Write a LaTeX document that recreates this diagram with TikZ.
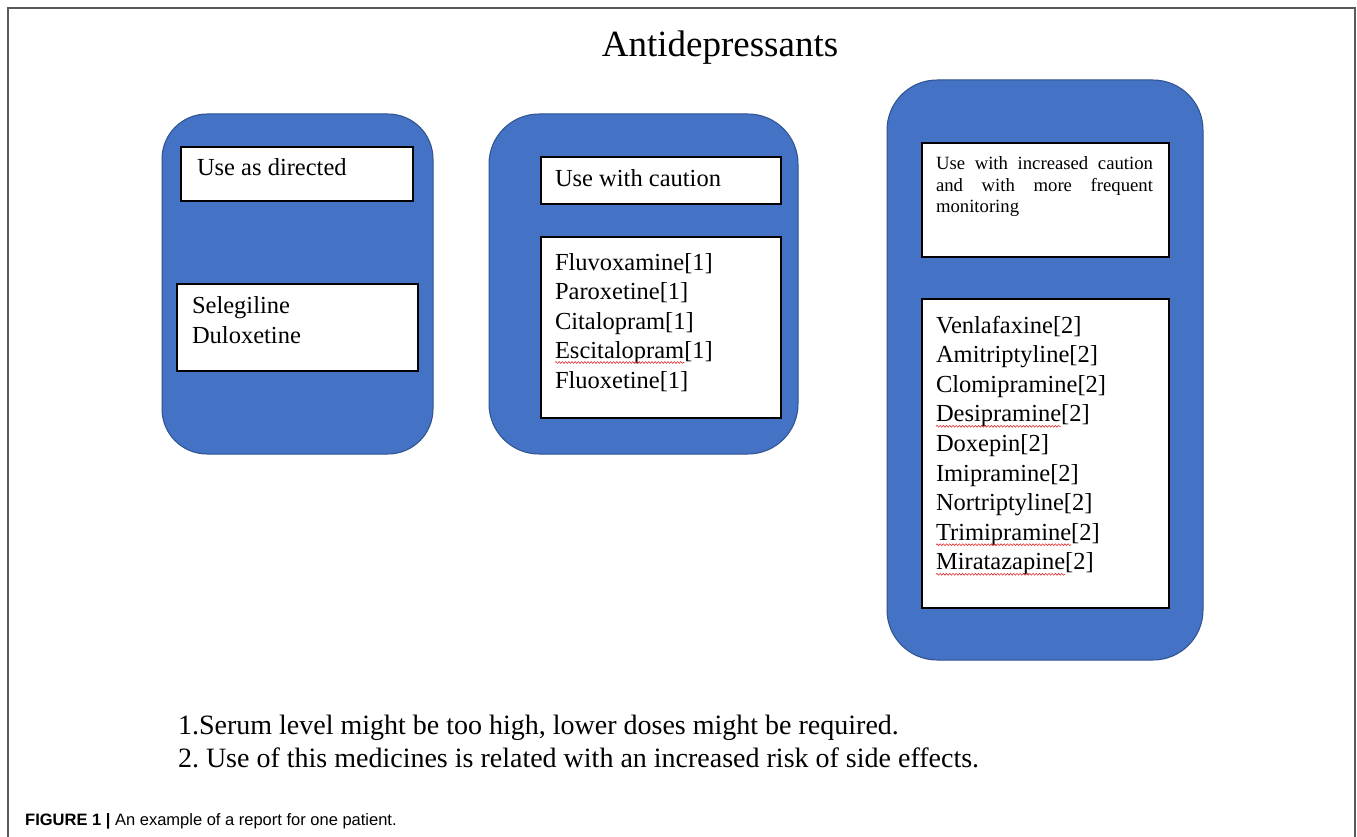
\documentclass[tikz,border=0pt]{standalone}
\usepackage{fontspec}
\setmainfont{Liberation Serif}
\newfontfamily\capfont{Liberation Sans}
\usetikzlibrary{calc,decorations.pathmorphing}
\definecolor{boxblue}{HTML}{4472C4}
\definecolor{boxedge}{HTML}{2F528F}
\definecolor{framegray}{HTML}{5A5A5A}
\definecolor{squigred}{HTML}{E03030}
\frenchspacing
\begin{document}
\begin{tikzpicture}[x=1pt,y=-1pt,
  bluebox/.style={fill=boxblue, draw=boxedge, line width=1pt, inner sep=0pt, outer sep=0pt},
  whitebox/.style={fill=white, draw=black, line width=1.4pt, inner sep=0pt, outer sep=0pt},
  txt/.style={inner sep=0pt, outer sep=0pt, anchor=base west, font=\fontsize{24.5}{29}\selectfont},
  smalltxt/.style={inner sep=0pt, outer sep=0pt, anchor=base west, font=\fontsize{18.7}{22}\selectfont},
  notetxt/.style={inner sep=0pt, outer sep=0pt, anchor=base west, font=\fontsize{28}{33}\selectfont},
  squig/.style={draw=squigred, line width=0.6pt, decorate, decoration={snake, amplitude=0.9pt, segment length=3.2pt}},
]
\useasboundingbox (0,0) rectangle (1357,837);
\fill[white] (0,0) rectangle (1357,837);
\draw[framegray, line width=1.6pt] (8,837) -- (8,8) -- (1355,8) -- (1355,837);

% title
\node[inner sep=0pt, anchor=base, font=\fontsize{37}{44}\selectfont] (title) at (720,57) {Antidepressants};

% blue groups
\node[bluebox, rounded corners=45pt, minimum width=271pt, minimum height=340pt] (g1) at (297.5,284) {};
\node[bluebox, rounded corners=50pt, minimum width=309pt, minimum height=340pt] (g2) at (643.5,284) {};
\node[bluebox, rounded corners=50pt, minimum width=316pt, minimum height=580pt] (g3) at (1045,370) {};

% white boxes
\node[whitebox, minimum width=232pt, minimum height=54pt] (h1) at (297,174) {};
\node[whitebox, minimum width=241pt, minimum height=87pt] (l1) at (297.5,327.5) {};
\node[whitebox, minimum width=240pt, minimum height=47pt] (h2) at (661,180.5) {};
\node[whitebox, minimum width=240pt, minimum height=181pt] (l2) at (661,327.5) {};
\node[whitebox, minimum width=247pt, minimum height=114pt] (h3) at (1045.5,200) {};
\node[whitebox, minimum width=247pt, minimum height=309pt] (l3) at (1045.5,453.5) {};

% group 1
\node[txt] (h1t) at (197,176) {Use as directed};
\node[txt] (l1a) at (192,313) {Selegiline};
\node[txt] (l1b) at (192,343) {Duloxetine};

% group 2
\node[txt] (h2t) at (555,187) {Use with caution};
\foreach \w/\r [count=\i from 0] in {Fluvoxamine/1,Paroxetine/1,Citalopram/1,Escitalopram/1,Fluoxetine/1}{
  \node[txt] (bw\i) at (555,270+29.5*\i) {\w};
  \node[txt] (br\i) at (bw\i.base east) {[\r]};
}
\draw[squig] ($(bw3.base west)+(0,4)$) -- ($(bw3.base east)+(0,4)$);

% group 3
\node[smalltxt] (h3a) at (936,170) {\makebox[217pt][s]{Use with increased caution}};
\node[smalltxt] (h3b) at (936,191.5) {\makebox[217pt][s]{and with more frequent}};
\node[smalltxt] (h3c) at (936,213) {monitoring};
\foreach \w/\r [count=\i from 0] in {Venlafaxine/2,Amitriptyline/2,Clomipramine/2,Desipramine/2,Doxepin/2,Imipramine/2,Nortriptyline/2,Trimipramine/2,Miratazapine/2}{
  \node[txt] (cw\i) at (936,333+29.6*\i) {\w};
  \node[txt] (cr\i) at (cw\i.base east) {[\r]};
}
\foreach \i in {3,7,8}{
  \draw[squig] ($(cw\i.base west)+(0,4.5)$) -- ($(cw\i.base east)+(0,4.5)$);
}

% notes
\node[notetxt] (n1) at (178,734) {1.Serum level might be too high, lower doses might be required.};
\node[notetxt] (n2) at (178,767) {2. Use of this medicines is related with an increased risk of side effects.};

% caption
\node[inner sep=0pt, anchor=base west, font=\capfont\fontsize{16.5}{20}\selectfont] (cap) at (25,825) {\textbf{FIGURE 1 |} An example of a report for one patient.};
\end{tikzpicture}
\end{document}
